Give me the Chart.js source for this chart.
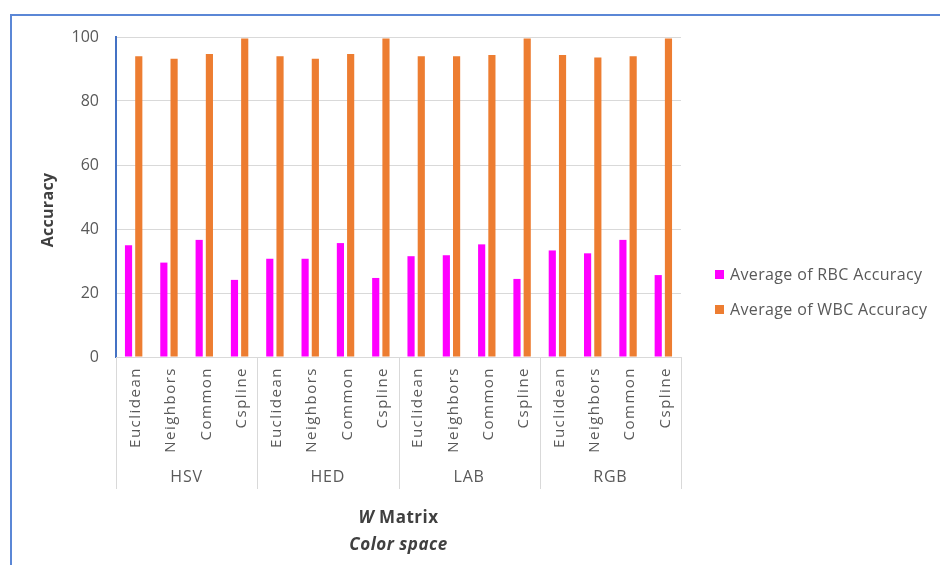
<!DOCTYPE html>
<html>
<head>
<meta charset="utf-8">
<title>Accuracy by W Matrix and Color space</title>
<script src="https://cdn.jsdelivr.net/npm/chart.js@4.4.1/dist/chart.umd.min.js"></script>
<style>
  html, body { margin: 0; padding: 0; background: #ffffff; }
  #wrap { position: relative; width: 940px; height: 565px; overflow: hidden; }
  #frame { position: absolute; left: 10px; top: 14px; width: 960px; height: 600px;
           border-left: 2px solid #5B87D6; border-top: 2px solid #5B87D6; box-sizing: border-box; }
  canvas { position: absolute; left: 0; top: 0; }
</style>
</head>
<body>
<div id="wrap">
  <div id="frame"></div>
  <canvas id="chart" width="940" height="565"></canvas>
</div>
<script>
// W matrix per color space
const colorSpaces = ['HSV', 'HED', 'LAB', 'RGB'];
const wMatrices = ['Euclidean', 'Neighbors', 'Common', 'Cspline'];
const categories = colorSpaces.flatMap(() => wMatrices);

// Average accuracies, in the same order as categories
const rbcAccuracy = [34.9, 29.5, 36.6, 24.1,  30.7, 30.7, 35.6, 24.7,  31.5, 31.8, 35.2, 24.4,  33.3, 32.4, 36.6, 25.6];
const wbcAccuracy = [94.0, 93.2, 94.7, 99.5,  94.0, 93.2, 94.7, 99.5,  94.0, 94.0, 94.4, 99.5,  94.4, 93.6, 94.0, 99.5];

const yTicks = [0, 20, 40, 60, 80, 100];

const seriesNames = ['Average of RBC Accuracy', 'Average of WBC Accuracy'];
const seriesColors = ['#FF00FF', '#ED7D31'];

const FONT = '"Open Sans", "DejaVu Sans", sans-serif';
const TEXT = '#595959';

// Category labels, group separators, group names, axis titles and legend
const decorations = {
  id: 'decorations',
  afterDraw(chart) {
    const ctx = chart.ctx;
    const area = chart.chartArea;
    const x = chart.scales.x;
    const step = (x.getPixelForValue(1) - x.getPixelForValue(0));
    const per = wMatrices.length;
    ctx.save();

    // rotated category labels
    ctx.fillStyle = TEXT;
    ctx.font = '15px ' + FONT;
    ctx.letterSpacing = '1.5px';
    ctx.textAlign = 'right';
    ctx.textBaseline = 'middle';
    chart.data.labels.forEach((lab, i) => {
      ctx.save();
      ctx.translate(x.getPixelForValue(i) + 2, area.bottom + 10);
      ctx.rotate(-Math.PI / 2);
      ctx.fillText(lab, 0, 0);
      ctx.restore();
    });

    // vertical separators between color-space groups
    ctx.strokeStyle = '#D9D9D9';
    ctx.lineWidth = 1;
    for (let g = 0; g <= colorSpaces.length; g++) {
      const px = Math.round(x.getPixelForValue(0) - step / 2 + g * per * step) + 0.5;
      ctx.beginPath();
      ctx.moveTo(px, area.bottom);
      ctx.lineTo(px, 489);
      ctx.stroke();
    }

    // group names
    ctx.font = '16px ' + FONT;
    ctx.letterSpacing = '0.8px';
    ctx.textAlign = 'center';
    colorSpaces.forEach((name, g) => {
      const start = x.getPixelForValue(0) - step / 2 + g * per * step;
      ctx.fillText(name, start + per * step / 2, 477);
    });

    // y axis title
    ctx.letterSpacing = '0.3px';
    ctx.save();
    ctx.translate(48, 210);
    ctx.rotate(-Math.PI / 2);
    ctx.fillStyle = '#404040';
    ctx.font = 'bold 16px ' + FONT;
    ctx.fillText('Accuracy', 0, 0);
    ctx.restore();

    // x axis title, two lines with mixed styles
    const cx = (area.left + area.right) / 2;
    ctx.fillStyle = '#404040';
    ctx.letterSpacing = '0.5px';
    const partA = 'W';
    const partB = ' Matrix';
    ctx.font = 'italic bold 17px ' + FONT;
    const wA = ctx.measureText(partA).width;
    ctx.font = 'bold 17px ' + FONT;
    const wB = ctx.measureText(partB).width;
    const startX = cx - (wA + wB) / 2;
    ctx.textAlign = 'left';
    ctx.font = 'italic bold 17px ' + FONT;
    ctx.fillText(partA, startX, 518);
    ctx.font = 'bold 17px ' + FONT;
    ctx.fillText(partB, startX + wA, 518);
    ctx.textAlign = 'center';
    ctx.font = 'italic bold 17px ' + FONT;
    ctx.fillText('Color space', cx, 545);

    // legend
    ctx.textAlign = 'left';
    ctx.font = '16px ' + FONT;
    ctx.letterSpacing = '0.35px';
    chart.data.datasets.forEach((ds, i) => {
      const ly = 274 + i * 35;
      ctx.fillStyle = ds.backgroundColor;
      ctx.fillRect(715, ly - 4, 9, 9);
      ctx.fillStyle = TEXT;
      ctx.fillText(ds.label, 730, ly + 1);
    });

    ctx.letterSpacing = '0px';
    ctx.restore();
  }
};

new Chart(document.getElementById('chart'), {
  type: 'bar',
  data: {
    labels: categories,
    datasets: [
      { label: seriesNames[0], data: rbcAccuracy, backgroundColor: seriesColors[0],
        categoryPercentage: 0.58, barPercentage: 0.7 },
      { label: seriesNames[1], data: wbcAccuracy, backgroundColor: seriesColors[1],
        categoryPercentage: 0.58, barPercentage: 0.7 }
    ]
  },
  options: {
    responsive: false,
    animation: false,
    layout: { padding: { left: 10, right: 259, top: 37, bottom: 0 } },
    plugins: {
      legend: { display: false },
      tooltip: { enabled: false }
    },
    scales: {
      x: {
        grid: { display: false, drawTicks: false },
        border: { display: true, color: '#D9D9D9', width: 1 },
        ticks: { display: false },
        afterFit(scale) { scale.height = 208; }
      },
      y: {
        min: 0,
        max: 100,
        afterBuildTicks(scale) { scale.ticks = yTicks.map(v => ({ value: v })); },
        grid: { color: '#D9D9D9', drawTicks: false },
        border: { display: true, color: '#4472C4', width: 2 },
        ticks: {
          padding: 17,
          color: TEXT,
          font: { family: FONT, size: 16 }
        },
        afterFit(scale) { scale.width = 106; }
      }
    }
  },
  plugins: [decorations]
});
</script>
</body>
</html>
